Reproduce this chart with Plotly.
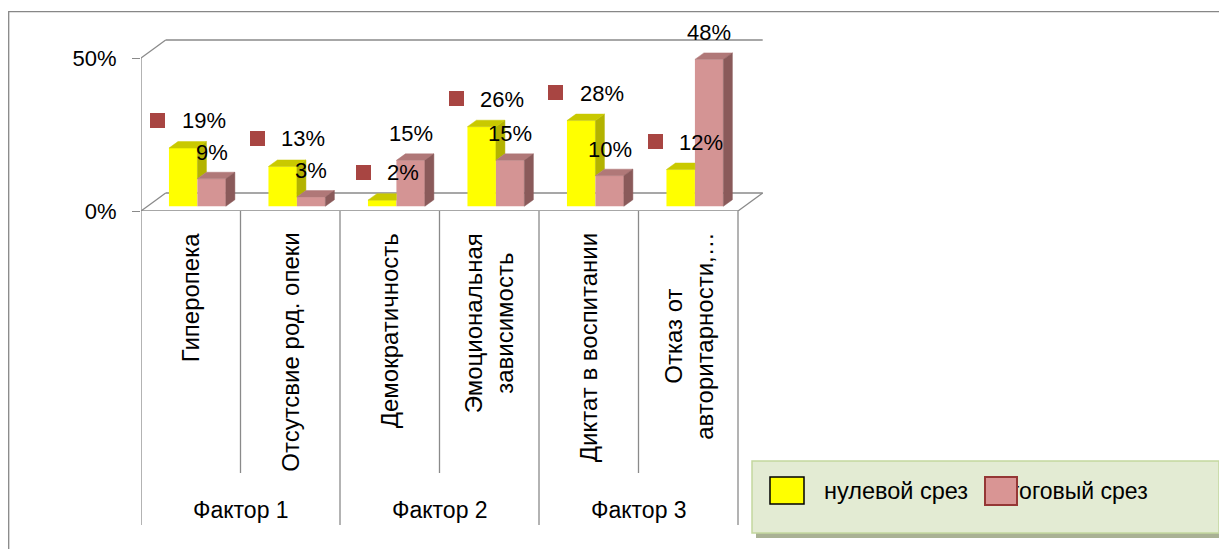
import plotly.graph_objects as go

# ---------------- data ----------------
groups = ["Фактор 1", "Фактор 2", "Фактор 3"]
categories = ["Гиперопека", "Отсутсвие род. опеки", "Демократичность",
              "Эмоциональная<br>зависимость", "Диктат в воспитании",
              "Отказ от<br>авторитарности,…"]
series_names = ["нулевой срез", "итоговый срез"]
zero_cut = [19, 13, 2, 26, 28, 12]
final_cut = [9, 3, 15, 15, 10, 48]
y_ticks = [0, 50]
y_tick_labels = ["0%", "50%"]

# ---------------- layout constants ----------------
PAGE_OFF = 8                                # default body margin of the html page
W, H = 1227 - PAGE_OFF, 549 - PAGE_OFF
PLOT_X0, PLOT_Y0 = 141, 211                 # page px of plot origin (left / bottom)
PW, PH = 629, 181
ML = PLOT_X0 - PAGE_OFF
MT = PLOT_Y0 - PH - PAGE_OFF
MR = W - ML - PW
MB = H - MT - PH
PX_CAT = 99.5                               # px per category
PX_UNIT = 3.06                              # px per percent
XR = [-0.5, -0.5 + PW / PX_CAT]
YR = [0, PH / PX_UNIT]

BAR_W = 0.286
OFF_Y = -0.076
OFF_P = OFF_Y + BAR_W
BASE = 1.55
DX, DY = 9 / PX_CAT, 6.5 / PX_UNIT          # bar depth
WX, WY = 24.7 / PX_CAT, 18 / PX_UNIT        # wall depth

FONT = "Liberation Sans, Arial, sans-serif"
Y_FRONT, Y_TOP, Y_SIDE = "#FFFF00", "#C9C900", "#B3B300"
P_FRONT, P_TOP, P_SIDE = "#D49494", "#B07878", "#8A5A5A"
GRID = "#8A8A8A"
KEY = "#A84542"


def pxx(p):
    return (p - PLOT_X0) / PW


def pxy(p):
    return (PLOT_Y0 - p) / PH


n = len(categories)
idx = list(range(n))
yc = [i + OFF_Y for i in idx]
pc = [i + OFF_P for i in idx]

fig = go.Figure()
fig.add_trace(go.Bar(x=yc, y=zero_cut, base=BASE, width=BAR_W, name=series_names[0],
                     marker=dict(color=Y_FRONT, line=dict(width=0)), showlegend=False))
fig.add_trace(go.Bar(x=pc, y=final_cut, base=BASE, width=BAR_W, name=series_names[1],
                     marker=dict(color=P_FRONT, line=dict(width=0)), showlegend=False))


def poly_trace(polys, color):
    xs, ys = [], []
    for poly in polys:
        for (a, b) in poly:
            xs.append(a)
            ys.append(b)
        xs.append(poly[0][0])
        ys.append(poly[0][1])
        xs.append(None)
        ys.append(None)
    return go.Scatter(x=xs, y=ys, mode="lines", fill="toself", fillcolor=color,
                      line=dict(color=color, width=0.5), hoverinfo="skip", showlegend=False)


y_side, y_top, p_side, p_top = [], [], [], []
for i in idx:
    yl = yc[i] - BAR_W / 2
    yr = yl + BAR_W
    ytop = BASE + zero_cut[i]
    ptop = BASE + final_cut[i]
    pl = yr
    pr = pl + BAR_W
    yb = max(BASE, ptop)
    if ytop > yb:
        y_side.append([(yr, yb), (yr + DX, yb + DY), (yr + DX, ytop + DY), (yr, ytop)])
    if ptop > ytop:
        y_top.append([(yl, ytop), (yl + DX, ytop + DY), (yr, ytop + DY), (yr, ytop)])
    else:
        y_top.append([(yl, ytop), (yl + DX, ytop + DY), (yr + DX, ytop + DY), (yr, ytop)])
    p_top.append([(pl, ptop), (pl + DX, ptop + DY), (pr + DX, ptop + DY), (pr, ptop)])
    p_side.append([(pr, BASE), (pr + DX, BASE + DY), (pr + DX, ptop + DY), (pr, ptop)])

fig.add_trace(poly_trace(y_side, Y_SIDE))
fig.add_trace(poly_trace(y_top, Y_TOP))
fig.add_trace(poly_trace(p_top, P_TOP))
fig.add_trace(poly_trace(p_side, P_SIDE))

shapes = []


def dline(x0, y0, x1, y1, color=GRID, w=1.3, layer="below"):
    shapes.append(dict(type="line", xref="x", yref="y", x0=x0, y0=y0, x1=x1, y1=y1,
                       line=dict(color=color, width=w), layer=layer))


top = y_ticks[-1]
x_left, x_right = -0.5, n - 0.5
dline(x_left, 0, x_left, top)
dline(x_left, top, x_left + WX, top + WY)
dline(x_left + WX, top + WY, x_right + WX, top + WY)
dline(x_left, 0, x_left + WX, WY)
dline(x_left + WX, WY, x_right + WX, WY)
dline(x_left, 0, x_right, 0)
dline(x_right, 0, x_right + WX, WY)

# category dividers under the axis
for k in range(n + 1):
    xb = k - 0.5
    end = 525 if k % 2 == 0 else 473
    shapes.append(dict(type="line", xref="x", yref="paper", x0=xb, x1=xb,
                       y0=0, y1=pxy(end), line=dict(color=GRID, width=1.3)))

# outer chart frame
shapes.append(dict(type="rect", xref="paper", yref="paper", x0=pxx(8.7), x1=pxx(1260),
                   y0=pxy(11.7), y1=pxy(580), line=dict(color="#878787", width=1.3),
                   fillcolor="rgba(0,0,0,0)", layer="above"))

# legend box
shapes.append(dict(type="rect", xref="paper", yref="paper", x0=pxx(756), x1=pxx(1223),
                   y0=pxy(465), y1=pxy(538), line=dict(width=0), fillcolor="#A9B194",
                   layer="above"))
shapes.append(dict(type="rect", xref="paper", yref="paper", x0=pxx(752), x1=pxx(1219),
                   y0=pxy(461), y1=pxy(533), line=dict(color="#C4D79E", width=1.5),
                   fillcolor="#E3EBD3", layer="above"))
shapes.append(dict(type="rect", xref="paper", yref="paper", x0=pxx(770), x1=pxx(804),
                   y0=pxy(477), y1=pxy(504), line=dict(color="#000000", width=1.5),
                   fillcolor=Y_FRONT, layer="above"))

annotations = []
LBL = dict(family=FONT, size=22, color="#000000")


def text_w(s, size=22):
    w = 0
    for ch in s:
        w += 0.889 if ch == "%" else 0.556
    return w * size


for i in idx:
    t = f"{zero_cut[i]}%"
    tw = text_w(t)
    wtot = 15 + 14.5 + tw
    left = 4 - wtot / 2
    annotations.append(dict(x=yc[i], y=BASE + zero_cut[i], xref="x", yref="y", text=" ",
                            showarrow=False, width=15, height=15, bgcolor=KEY, borderpad=0,
                            borderwidth=0, font=dict(size=1), xanchor="center", yanchor="middle",
                            xshift=left + 7.5, yshift=28))
    annotations.append(dict(x=yc[i], y=BASE + zero_cut[i], xref="x", yref="y", text=t,
                            showarrow=False, font=LBL, xanchor="left", yanchor="middle",
                            xshift=left + 29.5, yshift=27.5))
    annotations.append(dict(x=pc[i], y=BASE + final_cut[i], xref="x", yref="y",
                            text=f"{final_cut[i]}%", showarrow=False, font=LBL,
                            xanchor="center", yanchor="middle", yshift=26.5))
    annotations.append(dict(x=i, y=pxy(231), xref="x", yref="paper", text=categories[i],
                            showarrow=False, textangle=-90, xanchor="center", yanchor="top",
                            align="center", font=dict(family=FONT, size=24, color="#000000")))

for g, name in enumerate(groups):
    annotations.append(dict(x=2 * g + 0.5, y=pxy(510), xref="x", yref="paper", text=name,
                            showarrow=False, xanchor="center", yanchor="middle",
                            font=dict(family=FONT, size=23, color="#000000")))

annotations.append(dict(x=pxx(822), y=pxy(491), xref="paper", yref="paper", text=series_names[0],
                        showarrow=False, xanchor="left", yanchor="middle",
                        font=dict(family=FONT, size=23.5, color="#000000")))
annotations.append(dict(x=pxx(994), y=pxy(491), xref="paper", yref="paper", text=series_names[1],
                        showarrow=False, xanchor="left", yanchor="middle",
                        font=dict(family=FONT, size=23, color="#000000")))
annotations.append(dict(x=pxx(1001), y=pxy(490.5), xref="paper", yref="paper", text=" ",
                        showarrow=False, width=30, height=26, bgcolor="#D99594",
                        bordercolor="#953735", borderwidth=2, borderpad=0, font=dict(size=1),
                        xanchor="center", yanchor="middle"))

fig.update_layout(
    width=W, height=H,
    margin=dict(l=ML, r=MR, t=MT, b=MB, autoexpand=False),
    paper_bgcolor="#FFFFFF", plot_bgcolor="rgba(0,0,0,0)",
    barmode="overlay", showlegend=False,
    xaxis=dict(range=XR, visible=False, fixedrange=True),
    yaxis=dict(range=YR, tickvals=y_ticks, ticktext=y_tick_labels, ticks="outside", ticklen=8,
               tickwidth=1.3, tickcolor=GRID, showgrid=False, zeroline=False, showline=False,
               tickfont=dict(family=FONT, size=22, color="#000000"), ticklabelstandoff=11,
               fixedrange=True),
    shapes=shapes, annotations=annotations,
)

fig.write_html("out.html")
